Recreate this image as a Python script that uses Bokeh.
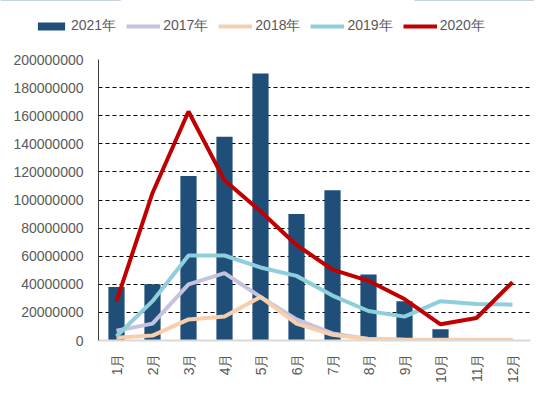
from bokeh.plotting import figure
from bokeh.models import ColumnDataSource, FactorRange, Range1d, Legend, LegendItem, NumeralTickFormatter, FixedTicker
from bokeh.embed import file_html
from bokeh.resources import INLINE
import math

months = ["1月", "2月", "3月", "4月", "5月", "6月", "7月", "8月", "9月", "10月", "11月", "12月"]
y2021 = [38e6, 40e6, 117e6, 145e6, 190e6, 90e6, 107e6, 47e6, 28e6, 8e6, 0, 0]
y2017 = [7e6, 12e6, 40e6, 48e6, 31e6, 15e6, 5e6, 1e6, 0.5e6, 0.3e6, 0.3e6, 0.3e6]
y2018 = [2e6, 3.5e6, 15e6, 17e6, 31e6, 12e6, 4e6, 1e6, 0.5e6, 0.5e6, 0.5e6, 0.5e6]
y2019 = [3e6, 28e6, 60.5e6, 60.5e6, 52e6, 46e6, 32e6, 21e6, 17e6, 28e6, 26e6, 25.5e6]
y2020 = [28e6, 105e6, 163e6, 114e6, 92e6, 68e6, 50.5e6, 42.5e6, 29.5e6, 11.5e6, 16e6, 41.5e6]
y_ticks = [0, 20e6, 40e6, 60e6, 80e6, 100e6, 120e6, 140e6, 160e6, 180e6, 200e6]
series_names = ["2021年", "2017年", "2018年", "2019年", "2020年"]

src = ColumnDataSource(dict(m=months, y2021=y2021, y2017=y2017, y2018=y2018, y2019=y2019, y2020=y2020))
src_idx = ColumnDataSource(dict(i=list(range(len(months))), y2021=y2021, y2017=y2017, y2018=y2018,
                                y2019=y2019, y2020=y2020))

FONT = "Liberation Sans"
GRAY = "#595959"
C21, C17, C18, C19, C20 = "#1f4e79", "#c7c2de", "#f8cfad", "#8fcfdc", "#c00000"

# main chart
p = figure(x_range=FactorRange(*months, range_padding=0), y_range=Range1d(0, 200e6),
           frame_width=432, frame_height=281, output_backend="svg", toolbar_location=None,
           min_border_left=98, min_border_right=4, min_border_top=19, min_border_bottom=10)
p.outline_line_color = None

p.vbar(x="m", top="y2021", width=0.45, source=src, fill_color=C21, line_color=None)
p.line(x="m", y="y2017", source=src, line_color=C17, line_width=4)
p.line(x="m", y="y2018", source=src, line_color=C18, line_width=4)
p.line(x="m", y="y2019", source=src, line_color=C19, line_width=4)
p.line(x="m", y="y2020", source=src, line_color=C20, line_width=4)

p.xgrid.grid_line_color = None
p.ygrid.grid_line_color = "black"
p.ygrid.grid_line_dash = "4 3"
p.ygrid.grid_line_width = 1

p.yaxis.ticker = FixedTicker(ticks=y_ticks)
p.yaxis.formatter = NumeralTickFormatter(format="0")
p.yaxis.major_tick_line_color = None
p.yaxis.minor_tick_line_color = None
p.yaxis.axis_line_color = "#404040"
p.yaxis.major_label_standoff = 9
p.yaxis.major_label_text_font = FONT
p.yaxis.major_label_text_font_size = "14px"
p.yaxis.major_label_text_color = GRAY

p.xaxis.major_tick_line_color = None
p.xaxis.minor_tick_line_color = None
p.xaxis.major_tick_out = 0
p.xaxis.major_tick_in = 0
p.xaxis.axis_line_color = "#d9d9d9"
p.xaxis.axis_line_width = 2
p.xaxis.major_label_orientation = math.pi / 2
p.xaxis.major_label_standoff = 13
p.xaxis.major_label_text_font = FONT
p.xaxis.major_label_text_font_size = "14px"
p.xaxis.major_label_text_color = GRAY

# legend strip (series drawn out of view, only their legend entries show)
pl = figure(x_range=Range1d(0, 1), y_range=Range1d(-2e6, -1e6), width=534, height=40,
            output_backend="svg", toolbar_location=None, x_axis_location=None, y_axis_location=None,
            min_border_left=0, min_border_right=0, min_border_top=0, min_border_bottom=0)
pl.outline_line_color = None
pl.grid.grid_line_color = None
rb = pl.vbar(x="i", top="y2021", width=0.45, source=src_idx, fill_color=C21, line_color=None)
r17 = pl.line(x="i", y="y2017", source=src_idx, line_color=C17, line_width=4)
r18 = pl.line(x="i", y="y2018", source=src_idx, line_color=C18, line_width=4)
r19 = pl.line(x="i", y="y2019", source=src_idx, line_color=C19, line_width=4)
r20 = pl.line(x="i", y="y2020", source=src_idx, line_color=C20, line_width=4)

legend = Legend(items=[LegendItem(label=n, renderers=[r]) for n, r in zip(series_names, [rb, r17, r18, r19, r20])],
                orientation="horizontal", location=(34, 5),
                glyph_width=34, glyph_height=10, label_standoff=3, spacing=10,
                padding=4, margin=0, border_line_color=None, background_fill_alpha=0,
                label_text_font=FONT, label_text_font_size="14px", label_text_color=GRAY)
pl.add_layout(legend, "center")

open("out.html", "w").write(file_html([pl, p], INLINE))
